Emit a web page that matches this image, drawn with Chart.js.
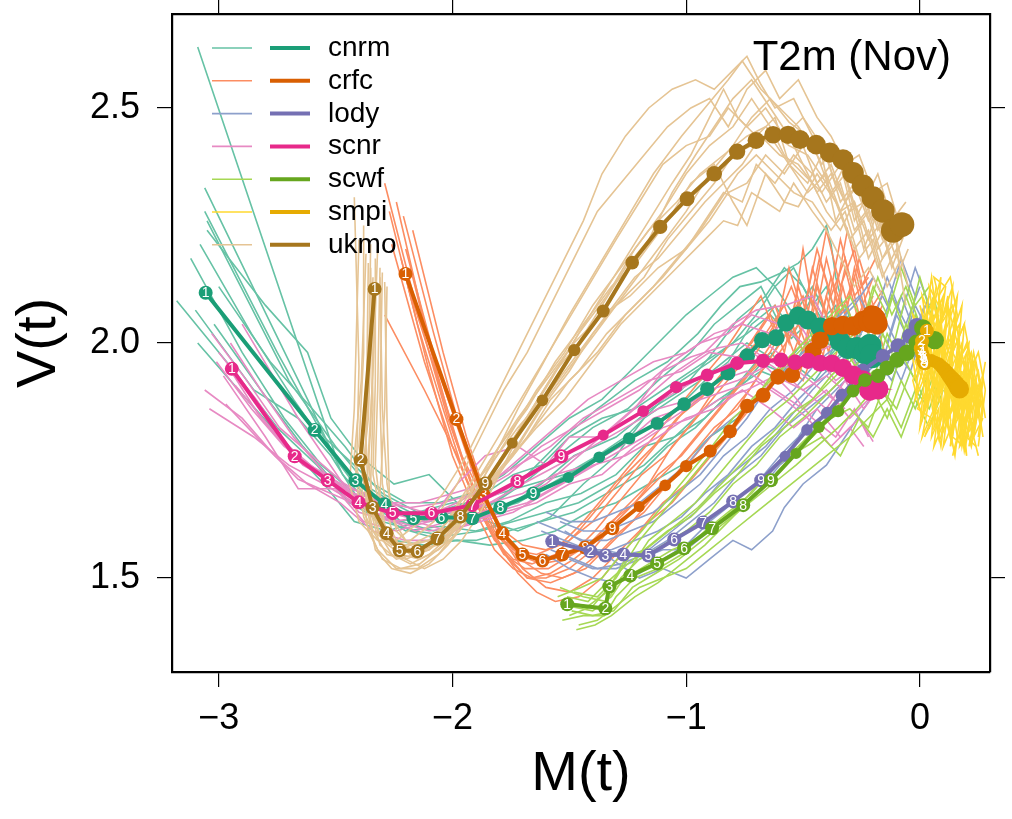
<!DOCTYPE html>
<html>
<head>
<meta charset="utf-8">
<script src="https://cdn.jsdelivr.net/npm/chart.js@4.4.1/dist/chart.umd.min.js"></script>
<style>
  html, body { margin: 0; padding: 0; background: #ffffff; }
  #wrap { width: 1012px; height: 819px; }
</style>
</head>
<body>
<div id="wrap"><canvas id="c" width="1012" height="819"></canvas></div>
<script>
// Model names, colours and axis ticks
const modelNames = ['cnrm', 'crfc', 'lody', 'scnr', 'scwf', 'smpi', 'ukmo'];
const meanColors = ['#1B9E77', '#D95F02', '#7570B3', '#E7298A', '#66A61E', '#E6AB02', '#A6761D'];
const memberColors = ['#66C2A5', '#FC8D62', '#8DA0CB', '#E78AC3', '#A6D854', '#FFD92F', '#E5C494'];
const xTicks = [-3, -2, -1, 0];
const yTicks = [1.5, 2.0, 2.5];
const panelTitle = 'T2m (Nov)';
const xLabel = 'M(t)';
const yLabel = 'V(t)';

// Ensemble-mean trajectories [M(t), V(t)], one point per lead time
const cnrmMean = [[-3.056,2.107],[-2.590,1.815],[-2.415,1.708],[-2.291,1.657],[-2.167,1.627],[-2.047,1.629],[-1.915,1.627],[-1.795,1.650],[-1.654,1.680],[-1.504,1.714],[-1.372,1.757],[-1.244,1.797],[-1.124,1.829],[-1.009,1.870],[-0.910,1.902],[-0.821,1.936],[-0.739,1.972],[-0.675,2.006],[-0.615,2.011],[-0.573,2.043],[-0.521,2.058],[-0.479,2.049],[-0.427,2.034],[-0.385,2.026],[-0.342,2.004],[-0.308,1.989],[-0.269,1.989],[-0.235,1.979],[-0.214,1.994],[-0.205,1.972]];
const crfcMean = [[-2.201,2.147],[-1.983,1.838],[-1.868,1.678],[-1.786,1.595],[-1.701,1.550],[-1.615,1.537],[-1.530,1.550],[-1.432,1.565],[-1.316,1.606],[-1.201,1.652],[-1.090,1.697],[-1.000,1.738],[-0.897,1.770],[-0.812,1.812],[-0.739,1.866],[-0.671,1.889],[-0.607,1.928],[-0.547,1.932],[-0.457,1.983],[-0.427,2.006],[-0.376,2.036],[-0.329,2.038],[-0.286,2.036],[-0.244,2.047],[-0.205,2.058],[-0.184,2.041],[-0.200,2.055],[-0.215,2.046],[-0.195,2.050]];
const lodyMean = [[-1.573,1.578],[-1.410,1.557],[-1.346,1.548],[-1.269,1.550],[-1.162,1.548],[-1.051,1.582],[-0.927,1.618],[-0.799,1.663],[-0.679,1.708],[-0.577,1.759],[-0.483,1.815],[-0.397,1.851],[-0.333,1.889],[-0.244,1.942],[-0.158,1.972],[-0.094,1.994],[-0.043,2.015],[-0.013,2.036]];
const scnrMean = [[-2.944,1.945],[-2.675,1.759],[-2.534,1.708],[-2.402,1.661],[-2.256,1.638],[-2.090,1.638],[-1.915,1.655],[-1.722,1.706],[-1.534,1.759],[-1.355,1.804],[-1.184,1.855],[-1.043,1.906],[-0.910,1.932],[-0.782,1.957],[-0.671,1.962],[-0.594,1.964],[-0.534,1.959],[-0.479,1.962],[-0.427,1.957],[-0.376,1.957],[-0.329,1.947],[-0.286,1.932],[-0.244,1.921],[-0.205,1.904],[-0.179,1.902],[-0.214,1.900]];
const scwfMean = [[-1.509,1.444],[-1.346,1.435],[-1.329,1.482],[-1.239,1.505],[-1.124,1.531],[-1.009,1.563],[-0.889,1.606],[-0.756,1.655],[-0.637,1.708],[-0.530,1.765],[-0.432,1.821],[-0.350,1.855],[-0.286,1.898],[-0.235,1.921],[-0.179,1.930],[-0.141,1.947],[-0.098,1.964],[-0.056,1.979],[-0.013,2.000],[0.013,2.032],[0.064,2.006]];
const smpiMean = [[0.030,2.026],[0.009,2.004],[0.004,1.989],[0.009,1.979],[0.013,1.972],[0.017,1.968],[0.013,1.964],[0.017,1.959],[0.021,1.957],[0.035,1.962],[0.050,1.964],[0.065,1.960],[0.080,1.956],[0.092,1.950],[0.104,1.944],[0.115,1.937],[0.126,1.930],[0.136,1.924],[0.146,1.918],[0.155,1.912],[0.163,1.906],[0.170,1.902]];
const ukmoMean = [[-2.333,2.115],[-2.393,1.751],[-2.342,1.650],[-2.282,1.595],[-2.226,1.559],[-2.150,1.557],[-2.064,1.584],[-1.966,1.631],[-1.859,1.701],[-1.744,1.787],[-1.615,1.878],[-1.479,1.985],[-1.355,2.068],[-1.231,2.171],[-1.111,2.247],[-0.996,2.307],[-0.880,2.360],[-0.782,2.407],[-0.701,2.431],[-0.628,2.443],[-0.564,2.443],[-0.513,2.433],[-0.444,2.422],[-0.385,2.405],[-0.329,2.390],[-0.286,2.362],[-0.244,2.335],[-0.201,2.309],[-0.158,2.281],[-0.115,2.239],[-0.077,2.252]];

// Individual ensemble members [M(t), V(t)]
const cnrmMembers = [
  [[-3.09,2.63],[-2.50,1.76],[-2.36,1.68],[-2.22,1.62],[-2.08,1.60],[-1.95,1.62],[-1.80,1.64],[-1.62,1.70],[-1.48,1.76],[-1.30,1.80],[-1.15,1.86],[-1.02,1.90],[-0.90,1.97],[-0.78,2.05],[-0.66,2.10],[-0.58,2.16],[-0.50,2.12],[-0.42,2.05],[-0.36,2.08],[-0.30,1.98],[-0.25,2.02]],
  [[-3.06,2.33],[-2.62,1.88],[-2.47,1.72],[-2.33,1.64],[-2.20,1.60],[-2.05,1.61],[-1.90,1.60],[-1.76,1.62],[-1.60,1.66],[-1.45,1.68],[-1.30,1.72],[-1.18,1.78],[-1.05,1.80],[-0.92,1.86],[-0.80,1.90],[-0.70,1.96],[-0.60,1.94],[-0.50,2.00],[-0.42,1.95],[-0.34,2.00],[-0.28,1.93]],
  [[-3.06,2.28],[-2.75,1.98],[-2.55,1.80],[-2.42,1.74],[-2.30,1.68],[-2.15,1.64],[-2.00,1.66],[-1.85,1.65],[-1.70,1.70],[-1.55,1.76],[-1.40,1.82],[-1.25,1.86],[-1.12,1.92],[-0.98,1.98],[-0.88,2.04],[-0.78,2.08],[-0.68,2.12],[-0.60,2.04],[-0.52,2.08],[-0.45,2.00],[-0.38,2.03]],
  [[-3.05,2.26],[-2.70,1.92],[-2.50,1.78],[-2.35,1.69],[-2.22,1.65],[-2.10,1.62],[-1.96,1.64],[-1.82,1.66],[-1.68,1.72],[-1.52,1.80],[-1.38,1.86],[-1.22,1.92],[-1.08,1.96],[-0.95,2.02],[-0.85,2.08],[-0.77,2.12],[-0.68,2.13],[-0.59,2.15],[-0.52,2.17],[-0.46,2.20],[-0.40,2.25],[-0.38,2.21],[-0.36,2.14],[-0.33,2.08],[-0.30,2.03]],
  [[-3.18,2.09],[-2.95,1.95],[-2.75,1.82],[-2.58,1.74],[-2.44,1.66],[-2.30,1.62],[-2.16,1.60],[-2.02,1.59],[-1.88,1.60],[-1.74,1.62],[-1.60,1.64],[-1.46,1.66],[-1.32,1.70],[-1.18,1.74],[-1.05,1.80],[-0.92,1.84],[-0.80,1.90],[-0.68,1.94],[-0.58,1.92],[-0.48,1.98],[-0.40,1.94],[-0.32,1.99],[-0.26,1.95]],
  [[-3.10,2.07],[-2.85,1.90],[-2.66,1.84],[-2.52,1.76],[-2.38,1.65],[-2.25,1.58],[-2.12,1.57],[-1.98,1.58],[-1.84,1.57],[-1.70,1.58],[-1.56,1.60],[-1.42,1.64],[-1.30,1.66],[-1.16,1.70],[-1.02,1.74],[-0.90,1.80],[-0.78,1.84],[-0.66,1.90],[-0.55,1.96],[-0.45,1.92],[-0.38,1.97],[-0.30,1.93]],
  [[-3.09,2.00],[-2.88,1.88],[-2.70,1.78],[-2.55,1.70],[-2.42,1.62],[-2.28,1.60],[-2.14,1.62],[-2.00,1.64],[-1.86,1.68],[-1.74,1.72],[-1.62,1.74],[-1.50,1.80],[-1.36,1.84],[-1.22,1.86],[-1.10,1.90],[-0.98,1.94],[-0.86,1.98],[-0.74,2.02],[-0.64,2.06],[-0.55,2.01],[-0.46,2.05],[-0.38,1.99],[-0.30,2.02]],
  [[-3.05,2.24],[-2.80,2.08],[-2.62,1.98],[-2.52,1.84],[-2.40,1.76],[-2.25,1.70],[-2.10,1.72],[-1.98,1.66],[-1.85,1.62],[-1.72,1.60],[-1.58,1.63],[-1.44,1.70],[-1.30,1.76],[-1.18,1.84],[-1.06,1.88],[-0.94,1.92],[-0.84,1.96],[-0.74,2.00],[-0.64,1.97],[-0.56,2.03],[-0.48,1.97],[-0.40,2.01]],
  [[-3.12,2.18],[-2.90,1.98],[-2.72,1.84],[-2.56,1.74],[-2.42,1.68],[-2.28,1.64],[-2.14,1.63],[-2.00,1.62],[-1.86,1.64],[-1.72,1.66],[-1.58,1.70],[-1.44,1.74],[-1.30,1.78],[-1.16,1.82],[-1.04,1.86],[-0.92,1.92],[-0.82,1.96],[-0.72,2.04],[-0.62,2.08],[-0.54,2.02],[-0.46,2.10],[-0.38,2.02],[-0.30,2.06],[-0.24,1.98]],
  [[-3.02,2.04],[-2.82,1.90],[-2.64,1.78],[-2.50,1.70],[-2.36,1.64],[-2.22,1.62],[-2.08,1.64],[-1.94,1.66],[-1.80,1.68],[-1.66,1.70],[-1.52,1.72],[-1.38,1.76],[-1.26,1.80],[-1.14,1.86],[-1.02,1.92],[-0.90,1.96],[-0.80,2.00],[-0.70,2.06],[-0.62,2.12],[-0.54,2.06],[-0.46,2.12],[-0.38,2.04],[-0.32,2.08],[-0.26,2.00]],
  [[-3.08,2.21],[-2.86,2.02],[-2.68,1.88],[-2.54,1.78],[-2.42,1.70],[-2.30,1.64],[-2.18,1.60],[-2.04,1.58],[-1.90,1.58],[-1.76,1.60],[-1.62,1.62],[-1.48,1.64],[-1.34,1.68],[-1.20,1.72],[-1.08,1.78],[-0.96,1.82],[-0.84,1.88],[-0.74,1.92],[-0.64,1.98],[-0.56,1.94],[-0.48,2.00],[-0.40,1.96],[-0.34,2.02],[-0.28,1.97]],
  [[-3.00,2.12],[-2.78,1.96],[-2.60,1.86],[-2.46,1.78],[-2.34,1.70],[-2.20,1.66],[-2.06,1.66],[-1.92,1.68],[-1.78,1.72],[-1.64,1.78],[-1.50,1.84],[-1.36,1.88],[-1.24,1.94],[-1.12,2.00],[-1.00,2.06],[-0.90,2.10],[-0.80,2.14],[-0.70,2.16],[-0.62,2.12],[-0.54,2.16],[-0.46,2.08],[-0.40,2.12],[-0.34,2.04]]
];
const crfcMembers = [
  [[-2.29,2.34],[-2.14,2.05],[-2.02,1.84],[-1.92,1.70],[-1.84,1.60],[-1.76,1.54],[-1.68,1.50],[-1.60,1.50],[-1.50,1.52],[-1.40,1.56],[-1.30,1.62],[-1.18,1.68],[-1.06,1.74],[-0.96,1.80],[-0.86,1.86],[-0.76,1.92],[-0.66,1.98],[-0.58,2.04],[-0.50,2.10],[-0.44,2.02],[-0.38,2.14],[-0.32,2.06],[-0.26,2.18],[-0.20,2.08],[-0.15,2.12]],
  [[-2.21,2.27],[-2.08,2.02],[-1.98,1.84],[-1.88,1.70],[-1.80,1.60],[-1.72,1.55],[-1.62,1.53],[-1.52,1.54],[-1.42,1.57],[-1.32,1.62],[-1.22,1.66],[-1.12,1.72],[-1.02,1.76],[-0.92,1.82],[-0.82,1.88],[-0.72,1.94],[-0.64,1.98],[-0.56,2.06],[-0.50,1.98],[-0.44,2.12],[-0.38,2.02],[-0.32,2.16],[-0.26,2.04],[-0.20,2.10]],
  [[-2.17,2.24],[-2.04,1.98],[-1.94,1.80],[-1.86,1.68],[-1.78,1.58],[-1.70,1.52],[-1.60,1.48],[-1.50,1.47],[-1.40,1.50],[-1.30,1.55],[-1.20,1.60],[-1.10,1.66],[-1.00,1.70],[-0.90,1.76],[-0.80,1.82],[-0.70,1.88],[-0.62,1.92],[-0.54,1.98],[-0.48,2.06],[-0.42,1.96],[-0.36,2.10],[-0.30,1.98],[-0.24,2.08],[-0.18,2.00]],
  [[-2.26,2.21],[-2.12,1.96],[-2.00,1.78],[-1.90,1.66],[-1.82,1.58],[-1.74,1.54],[-1.66,1.53],[-1.56,1.55],[-1.46,1.60],[-1.36,1.66],[-1.26,1.72],[-1.14,1.78],[-1.04,1.84],[-0.94,1.88],[-0.84,1.94],[-0.74,1.98],[-0.66,2.02],[-0.58,2.08],[-0.52,2.00],[-0.46,2.16],[-0.40,2.06],[-0.34,2.22],[-0.28,2.10],[-0.22,2.14]],
  [[-2.29,2.06],[-2.12,1.90],[-1.98,1.76],[-1.88,1.64],[-1.80,1.57],[-1.72,1.51],[-1.64,1.47],[-1.56,1.45],[-1.46,1.46],[-1.36,1.50],[-1.26,1.56],[-1.16,1.62],[-1.06,1.66],[-0.96,1.72],[-0.86,1.78],[-0.76,1.84],[-0.66,1.90],[-0.58,1.96],[-0.50,1.92],[-0.44,2.00],[-0.38,1.94],[-0.32,2.04],[-0.26,1.96],[-0.20,2.02]],
  [[-2.22,2.18],[-2.10,1.94],[-2.00,1.76],[-1.90,1.64],[-1.82,1.56],[-1.74,1.52],[-1.66,1.50],[-1.58,1.51],[-1.48,1.54],[-1.38,1.58],[-1.28,1.64],[-1.16,1.70],[-1.06,1.78],[-0.96,1.84],[-0.88,1.90],[-0.78,1.96],[-0.70,2.02],[-0.62,2.08],[-0.56,2.00],[-0.50,2.20],[-0.46,2.08],[-0.40,2.24],[-0.34,2.12],[-0.28,2.20],[-0.22,2.06]],
  [[-2.19,2.12],[-2.06,1.92],[-1.96,1.76],[-1.86,1.66],[-1.78,1.60],[-1.70,1.57],[-1.60,1.56],[-1.50,1.58],[-1.40,1.62],[-1.30,1.68],[-1.20,1.74],[-1.10,1.80],[-1.00,1.86],[-0.90,1.90],[-0.80,1.96],[-0.72,2.00],[-0.64,2.06],[-0.58,1.98],[-0.52,2.12],[-0.46,2.02],[-0.40,2.18],[-0.34,2.06],[-0.28,2.14],[-0.22,2.02],[-0.16,2.08]],
  [[-2.24,2.30],[-2.10,2.00],[-1.99,1.80],[-1.90,1.68],[-1.82,1.60],[-1.74,1.56],[-1.64,1.55],[-1.54,1.57],[-1.44,1.62],[-1.34,1.68],[-1.24,1.74],[-1.14,1.80],[-1.04,1.86],[-0.94,1.92],[-0.84,1.98],[-0.76,2.04],[-0.68,2.10],[-0.62,2.02],[-0.56,2.16],[-0.50,2.06],[-0.44,2.20],[-0.38,2.10],[-0.32,2.18],[-0.26,2.06],[-0.20,2.14]],
  [[-2.20,2.20],[-2.06,1.94],[-1.95,1.78],[-1.87,1.66],[-1.79,1.58],[-1.71,1.54],[-1.62,1.51],[-1.53,1.50],[-1.43,1.52],[-1.33,1.57],[-1.23,1.62],[-1.13,1.68],[-1.03,1.72],[-0.93,1.78],[-0.83,1.84],[-0.73,1.90],[-0.65,1.96],[-0.57,2.02],[-0.51,1.94],[-0.45,2.08],[-0.39,1.98],[-0.33,2.12],[-0.27,2.00],[-0.21,2.08],[-0.15,1.98]],
  [[-2.27,2.28],[-2.15,2.04],[-2.04,1.86],[-1.95,1.72],[-1.86,1.62],[-1.78,1.55],[-1.69,1.52],[-1.59,1.52],[-1.49,1.55],[-1.39,1.60],[-1.29,1.66],[-1.19,1.72],[-1.09,1.76],[-0.99,1.82],[-0.89,1.88],[-0.79,1.94],[-0.70,1.98],[-0.62,2.04],[-0.55,2.12],[-0.49,2.04],[-0.43,2.18],[-0.37,2.08],[-0.31,2.24],[-0.25,2.12],[-0.19,2.18]],
  [[-2.18,2.16],[-2.05,1.90],[-1.95,1.74],[-1.85,1.62],[-1.77,1.55],[-1.68,1.50],[-1.58,1.49],[-1.48,1.51],[-1.38,1.55],[-1.28,1.60],[-1.18,1.64],[-1.08,1.70],[-0.98,1.76],[-0.88,1.82],[-0.78,1.86],[-0.68,1.94],[-0.60,1.98],[-0.52,2.04],[-0.46,1.96],[-0.40,2.10],[-0.34,2.00],[-0.28,2.16],[-0.22,2.04],[-0.16,2.10]]
];
const lodyMembers = [
  [[-1.64,1.62],[-1.54,1.60],[-1.44,1.58],[-1.34,1.58],[-1.24,1.60],[-1.14,1.62],[-1.04,1.66],[-0.94,1.70],[-0.84,1.76],[-0.74,1.80],[-0.64,1.86],[-0.54,1.90],[-0.44,1.96],[-0.34,2.00],[-0.26,2.06],[-0.18,2.02],[-0.12,2.10],[-0.06,2.04],[0.00,2.12]],
  [[-1.58,1.56],[-1.48,1.54],[-1.38,1.52],[-1.28,1.53],[-1.18,1.55],[-1.08,1.58],[-0.98,1.62],[-0.88,1.66],[-0.78,1.72],[-0.68,1.76],[-0.58,1.82],[-0.48,1.86],[-0.38,1.90],[-0.30,1.94],[-0.22,1.98],[-0.14,2.04],[-0.08,1.98],[-0.02,2.08],[0.04,2.02]],
  [[-1.52,1.60],[-1.42,1.57],[-1.32,1.54],[-1.20,1.50],[-1.10,1.52],[-1.00,1.50],[-0.90,1.54],[-0.80,1.58],[-0.72,1.56],[-0.63,1.60],[-0.58,1.65],[-0.50,1.70],[-0.40,1.74],[-0.32,1.80],[-0.24,1.86],[-0.16,1.92],[-0.10,1.98],[-0.04,1.94],[0.02,2.04]],
  [[-1.60,1.64],[-1.50,1.62],[-1.40,1.62],[-1.30,1.64],[-1.20,1.66],[-1.10,1.70],[-1.00,1.74],[-0.90,1.80],[-0.80,1.84],[-0.70,1.88],[-0.62,1.92],[-0.52,1.96],[-0.44,2.00],[-0.36,2.04],[-0.28,2.08],[-0.20,2.14],[-0.14,2.08],[-0.08,2.18],[-0.02,2.10]],
  [[-1.56,1.58],[-1.46,1.56],[-1.36,1.56],[-1.26,1.55],[-1.16,1.56],[-1.06,1.60],[-0.96,1.64],[-0.86,1.70],[-0.76,1.74],[-0.66,1.78],[-0.56,1.84],[-0.46,1.90],[-0.38,1.94],[-0.30,1.98],[-0.22,2.02],[-0.16,1.96],[-0.10,2.06],[-0.04,2.00],[0.02,2.08]],
  [[-1.50,1.54],[-1.40,1.52],[-1.30,1.52],[-1.20,1.54],[-1.10,1.56],[-1.00,1.56],[-0.90,1.60],[-0.80,1.64],[-0.70,1.68],[-0.60,1.74],[-0.50,1.78],[-0.42,1.84],[-0.34,1.88],[-0.26,1.92],[-0.18,1.96],[-0.12,1.92],[-0.06,2.00],[0.00,1.96],[0.04,2.02]],
  [[-1.62,1.60],[-1.52,1.58],[-1.42,1.56],[-1.32,1.56],[-1.22,1.58],[-1.12,1.60],[-1.02,1.63],[-0.92,1.68],[-0.82,1.72],[-0.72,1.78],[-0.62,1.82],[-0.52,1.88],[-0.44,1.92],[-0.36,1.96],[-0.28,2.00],[-0.20,2.06],[-0.14,2.00],[-0.08,2.10],[-0.02,2.02],[0.04,2.10]],
  [[-1.54,1.62],[-1.44,1.60],[-1.34,1.60],[-1.24,1.62],[-1.14,1.64],[-1.04,1.68],[-0.94,1.72],[-0.84,1.78],[-0.74,1.84],[-0.66,1.90],[-0.58,1.94],[-0.50,1.98],[-0.42,2.02],[-0.34,2.06],[-0.26,2.10],[-0.20,2.04],[-0.14,2.14],[-0.08,2.06],[-0.02,2.16],[0.04,2.08]],
  [[-1.60,1.55],[-1.50,1.52],[-1.40,1.50],[-1.30,1.49],[-1.20,1.51],[-1.10,1.54],[-1.00,1.57],[-0.90,1.62],[-0.80,1.66],[-0.70,1.70],[-0.60,1.76],[-0.52,1.80],[-0.44,1.86],[-0.36,1.90],[-0.28,1.94],[-0.20,1.90],[-0.14,1.98],[-0.08,1.92],[-0.02,2.00],[0.04,1.94]]
];
const scnrMembers = [
  [[-3.04,1.86],[-2.85,1.80],[-2.70,1.74],[-2.55,1.70],[-2.42,1.66],[-2.28,1.64],[-2.12,1.62],[-1.98,1.63],[-1.84,1.66],[-1.70,1.70],[-1.55,1.74],[-1.40,1.78],[-1.26,1.82],[-1.12,1.86],[-0.98,1.88],[-0.86,1.92],[-0.74,1.94],[-0.62,1.90],[-0.50,1.86],[-0.40,1.90],[-0.30,1.84],[-0.22,1.88]],
  [[-2.97,1.87],[-2.80,1.78],[-2.66,1.71],[-2.52,1.68],[-2.38,1.65],[-2.24,1.62],[-2.10,1.60],[-1.96,1.61],[-1.82,1.64],[-1.68,1.66],[-1.54,1.70],[-1.40,1.74],[-1.26,1.76],[-1.12,1.80],[-1.00,1.84],[-0.88,1.86],[-0.76,1.90],[-0.64,1.86],[-0.54,1.82],[-0.44,1.86],[-0.34,1.80],[-0.26,1.84],[-0.20,1.79]],
  [[-3.03,2.02],[-2.88,1.92],[-2.74,1.82],[-2.60,1.76],[-2.46,1.70],[-2.32,1.66],[-2.18,1.65],[-2.04,1.66],[-1.90,1.68],[-1.76,1.72],[-1.62,1.78],[-1.48,1.82],[-1.34,1.86],[-1.20,1.90],[-1.06,1.96],[-0.94,2.00],[-0.82,2.02],[-0.72,2.06],[-0.60,2.04],[-0.50,2.00],[-0.40,1.96],[-0.30,1.93]],
  [[-2.90,2.04],[-2.78,1.94],[-2.66,1.84],[-2.55,1.76],[-2.44,1.68],[-2.30,1.63],[-2.16,1.60],[-2.02,1.62],[-1.88,1.64],[-1.74,1.66],[-1.60,1.70],[-1.46,1.76],[-1.32,1.82],[-1.18,1.88],[-1.04,1.94],[-0.92,1.98],[-0.80,2.04],[-0.70,2.07],[-0.58,2.08],[-0.46,2.10],[-0.38,2.02],[-0.30,1.98],[-0.24,1.92]],
  [[-2.98,1.93],[-2.80,1.80],[-2.66,1.69],[-2.50,1.69],[-2.38,1.62],[-2.24,1.60],[-2.10,1.62],[-1.98,1.70],[-1.86,1.76],[-1.72,1.78],[-1.60,1.74],[-1.50,1.80],[-1.36,1.80],[-1.22,1.86],[-1.10,1.94],[-0.98,1.97],[-0.86,1.99],[-0.76,2.00],[-0.64,1.96],[-0.52,1.94],[-0.42,1.90],[-0.32,1.86]],
  [[-2.96,1.95],[-2.82,1.84],[-2.68,1.76],[-2.54,1.72],[-2.40,1.67],[-2.26,1.66],[-2.12,1.64],[-1.98,1.64],[-1.84,1.66],[-1.70,1.68],[-1.56,1.72],[-1.42,1.74],[-1.28,1.78],[-1.14,1.84],[-1.02,1.86],[-0.90,1.90],[-0.78,1.92],[-0.66,1.95],[-0.56,1.90],[-0.46,1.84],[-0.36,1.80],[-0.28,1.86],[-0.22,1.80]],
  [[-3.06,1.90],[-2.90,1.84],[-2.76,1.76],[-2.62,1.70],[-2.48,1.66],[-2.34,1.60],[-2.20,1.58],[-2.06,1.58],[-1.92,1.62],[-1.78,1.64],[-1.64,1.66],[-1.50,1.70],[-1.36,1.72],[-1.22,1.78],[-1.10,1.82],[-0.98,1.84],[-0.86,1.88],[-0.74,1.90],[-0.62,1.93],[-0.50,1.90],[-0.40,1.93],[-0.30,1.89],[-0.24,1.94]],
  [[-3.00,1.98],[-2.84,1.88],[-2.70,1.78],[-2.56,1.72],[-2.42,1.68],[-2.28,1.66],[-2.14,1.66],[-2.00,1.68],[-1.86,1.70],[-1.72,1.74],[-1.58,1.78],[-1.44,1.84],[-1.30,1.88],[-1.16,1.92],[-1.02,1.94],[-0.90,1.98],[-0.78,1.97],[-0.66,2.00],[-0.56,1.96],[-0.46,1.98],[-0.36,1.92],[-0.28,1.95],[-0.22,1.88]],
  [[-2.93,1.91],[-2.78,1.82],[-2.64,1.74],[-2.50,1.70],[-2.36,1.66],[-2.22,1.64],[-2.08,1.63],[-1.94,1.65],[-1.80,1.68],[-1.66,1.72],[-1.52,1.76],[-1.38,1.80],[-1.24,1.84],[-1.10,1.88],[-0.96,1.92],[-0.84,1.95],[-0.72,1.98],[-0.60,1.94],[-0.50,1.90],[-0.40,1.86],[-0.32,1.92],[-0.24,1.86],[-0.18,1.90]],
  [[-3.01,1.96],[-2.86,1.86],[-2.72,1.78],[-2.58,1.73],[-2.44,1.69],[-2.30,1.67],[-2.16,1.62],[-2.02,1.60],[-1.88,1.62],[-1.74,1.64],[-1.60,1.68],[-1.46,1.72],[-1.32,1.76],[-1.18,1.80],[-1.06,1.84],[-0.94,1.88],[-0.82,1.90],[-0.70,1.92],[-0.58,1.88],[-0.48,1.84],[-0.38,1.78],[-0.30,1.82],[-0.24,1.78]],
  [[-2.95,2.00],[-2.82,1.90],[-2.68,1.80],[-2.54,1.72],[-2.40,1.64],[-2.26,1.62],[-2.12,1.63],[-1.98,1.66],[-1.84,1.70],[-1.70,1.76],[-1.56,1.82],[-1.42,1.88],[-1.28,1.92],[-1.14,1.96],[-1.00,1.98],[-0.88,2.02],[-0.76,2.04],[-0.64,2.02],[-0.54,2.06],[-0.44,1.98],[-0.36,2.00],[-0.28,1.94]]
];
const scwfMembers = [
  [[-1.54,1.48],[-1.44,1.46],[-1.34,1.45],[-1.28,1.50],[-1.20,1.54],[-1.10,1.57],[-1.00,1.60],[-0.90,1.64],[-0.80,1.70],[-0.70,1.74],[-0.60,1.80],[-0.50,1.84],[-0.42,1.88],[-0.34,1.92],[-0.26,1.96],[-0.18,2.00],[-0.12,1.94],[-0.06,2.04],[0.00,1.98],[0.06,2.06]],
  [[-1.53,1.41],[-1.44,1.42],[-1.35,1.42],[-1.30,1.46],[-1.22,1.50],[-1.12,1.52],[-1.02,1.55],[-0.92,1.60],[-0.82,1.64],[-0.72,1.68],[-0.62,1.74],[-0.52,1.78],[-0.44,1.82],[-0.36,1.86],[-0.28,1.90],[-0.20,1.94],[-0.14,1.88],[-0.08,1.98],[-0.02,1.92],[0.04,2.00]],
  [[-1.50,1.44],[-1.40,1.43],[-1.32,1.46],[-1.24,1.52],[-1.16,1.58],[-1.06,1.62],[-0.96,1.66],[-0.86,1.72],[-0.76,1.78],[-0.66,1.84],[-0.56,1.88],[-0.48,1.92],[-0.40,1.96],[-0.32,2.00],[-0.24,2.04],[-0.18,1.98],[-0.12,2.10],[-0.06,2.02],[0.00,2.14],[0.06,2.04]],
  [[-1.46,1.40],[-1.38,1.41],[-1.30,1.44],[-1.20,1.48],[-1.10,1.50],[-1.00,1.52],[-0.90,1.56],[-0.80,1.60],[-0.70,1.64],[-0.60,1.68],[-0.50,1.72],[-0.40,1.76],[-0.30,1.80],[-0.22,1.84],[-0.14,1.88],[-0.08,1.82],[-0.02,1.90],[0.04,1.86],[0.10,1.94]],
  [[-1.52,1.45],[-1.42,1.44],[-1.34,1.47],[-1.26,1.54],[-1.18,1.56],[-1.08,1.60],[-0.98,1.63],[-0.88,1.68],[-0.78,1.72],[-0.68,1.78],[-0.58,1.82],[-0.50,1.86],[-0.42,1.90],[-0.34,1.94],[-0.26,1.98],[-0.20,1.92],[-0.14,2.02],[-0.08,1.96],[-0.02,2.06],[0.04,1.98]],
  [[-1.48,1.47],[-1.38,1.46],[-1.30,1.50],[-1.20,1.58],[-1.10,1.64],[-1.00,1.70],[-0.90,1.76],[-0.80,1.82],[-0.72,1.88],[-0.64,1.92],[-0.56,1.96],[-0.48,2.00],[-0.40,2.04],[-0.32,2.08],[-0.26,2.02],[-0.20,2.12],[-0.14,2.06],[-0.08,2.16],[-0.02,2.08],[0.04,2.12]],
  [[-1.50,1.42],[-1.40,1.44],[-1.33,1.48],[-1.26,1.50],[-1.16,1.53],[-1.06,1.56],[-0.96,1.58],[-0.86,1.62],[-0.76,1.66],[-0.66,1.72],[-0.56,1.76],[-0.46,1.80],[-0.38,1.84],[-0.30,1.86],[-0.22,1.82],[-0.16,1.90],[-0.10,1.86],[-0.04,1.94],[0.02,1.88],[0.08,1.96]],
  [[-1.51,1.46],[-1.42,1.45],[-1.34,1.49],[-1.25,1.53],[-1.15,1.57],[-1.05,1.61],[-0.95,1.65],[-0.85,1.70],[-0.75,1.75],[-0.65,1.80],[-0.55,1.85],[-0.46,1.88],[-0.38,1.93],[-0.30,1.97],[-0.24,1.92],[-0.18,2.04],[-0.12,1.98],[-0.06,2.10],[0.00,2.02],[0.06,2.10],[0.10,2.00]],
  [[-1.49,1.43],[-1.40,1.42],[-1.31,1.43],[-1.23,1.48],[-1.13,1.51],[-1.03,1.54],[-0.93,1.58],[-0.83,1.62],[-0.73,1.66],[-0.63,1.70],[-0.53,1.74],[-0.44,1.78],[-0.35,1.82],[-0.27,1.86],[-0.20,1.90],[-0.14,1.84],[-0.08,1.92],[-0.02,1.86],[0.04,1.94],[0.08,1.88]],
  [[-1.55,1.46],[-1.45,1.48],[-1.36,1.50],[-1.28,1.55],[-1.19,1.60],[-1.09,1.66],[-0.99,1.72],[-0.89,1.78],[-0.80,1.84],[-0.71,1.88],[-0.62,1.94],[-0.54,1.98],[-0.46,2.02],[-0.38,2.06],[-0.30,2.10],[-0.24,2.04],[-0.18,2.14],[-0.12,2.06],[-0.06,2.12],[0.00,2.04],[0.05,2.08]],
  [[-1.47,1.39],[-1.39,1.40],[-1.32,1.42],[-1.22,1.46],[-1.12,1.49],[-1.02,1.53],[-0.92,1.57],[-0.82,1.62],[-0.72,1.67],[-0.62,1.72],[-0.52,1.77],[-0.42,1.80],[-0.34,1.76],[-0.26,1.84],[-0.20,1.80],[-0.14,1.86],[-0.08,1.80],[-0.02,1.88],[0.04,1.82],[0.10,1.90]]
];
const smpiMembers = [
  [[0.02,2.04],[0.06,2.10],[0.03,1.98],[0.08,2.06],[0.05,1.94],[0.10,2.02],[0.08,1.90],[0.13,1.98],[0.11,1.86],[0.16,1.94],[0.14,1.82],[0.19,1.90],[0.17,1.80],[0.22,1.88]],
  [[0.04,2.02],[0.00,2.08],[0.06,1.96],[0.02,1.92],[0.09,2.00],[0.06,1.88],[0.12,1.96],[0.10,1.84],[0.15,1.92],[0.18,1.82],[0.20,1.92],[0.24,1.86],[0.21,1.78],[0.26,1.88]],
  [[0.01,2.00],[0.05,2.14],[0.08,2.02],[0.12,2.10],[0.10,1.98],[0.15,2.06],[0.13,1.94],[0.18,2.00],[0.16,1.90],[0.21,1.96],[0.19,1.86],[0.24,1.92],[0.22,1.82],[0.27,1.88]],
  [[0.03,2.03],[-0.02,1.96],[0.03,1.90],[-0.01,1.86],[0.05,1.84],[0.02,1.80],[0.08,1.86],[0.06,1.78],[0.11,1.84],[0.14,1.78],[0.12,1.90],[0.17,1.84],[0.19,1.77],[0.22,1.84]],
  [[0.02,2.01],[0.07,2.00],[0.04,2.12],[0.10,2.06],[0.14,2.12],[0.12,2.00],[0.17,2.04],[0.15,1.94],[0.20,2.00],[0.23,1.92],[0.21,1.84],[0.25,1.90],[0.23,1.80],[0.27,1.84]],
  [[0.03,2.02],[0.00,1.94],[0.05,2.00],[0.03,1.88],[0.08,1.94],[0.06,1.82],[0.12,1.88],[0.09,1.80],[0.14,1.86],[0.18,1.94],[0.16,1.84],[0.21,1.92],[0.19,1.80],[0.24,1.96]],
  [[0.03,2.03],[0.08,1.96],[0.05,2.06],[0.11,1.94],[0.08,2.04],[0.14,1.96],[0.12,2.08],[0.17,1.98],[0.15,1.88],[0.20,1.94],[0.18,1.84],[0.23,1.98],[0.26,1.90],[0.28,1.96]],
  [[0.02,2.00],[-0.03,1.92],[0.01,1.84],[0.04,1.96],[0.07,1.86],[0.10,1.92],[0.08,1.82],[0.13,1.90],[0.16,1.80],[0.14,1.76],[0.19,1.84],[0.22,1.78],[0.25,1.86],[0.22,1.94]],
  [[0.03,2.02],[0.07,2.12],[0.04,2.04],[0.09,2.14],[0.07,2.02],[0.12,2.08],[0.10,1.96],[0.15,2.02],[0.13,1.92],[0.18,1.98],[0.21,1.88],[0.19,1.82],[0.24,1.88],[0.22,1.78]],
  [[0.02,2.02],[-0.02,2.04],[0.01,1.94],[0.05,2.02],[0.02,1.86],[0.07,1.92],[0.10,1.84],[0.12,1.94],[0.15,1.86],[0.13,1.78],[0.17,1.88],[0.20,1.80],[0.23,1.90],[0.26,1.82]],
  [[0.03,2.01],[0.06,1.92],[0.09,2.02],[0.11,1.90],[0.14,2.00],[0.12,1.88],[0.17,1.96],[0.19,1.86],[0.22,1.96],[0.20,1.84],[0.24,1.92],[0.27,1.86],[0.25,1.78],[0.28,1.90]],
  [[0.02,2.03],[-0.04,2.00],[-0.01,1.90],[0.03,1.98],[0.00,1.82],[0.05,1.90],[0.08,1.80],[0.10,1.88],[0.13,1.80],[0.16,1.88],[0.18,1.78],[0.21,1.86],[0.19,1.94],[0.23,1.88]],
  [[0.03,2.02],[0.09,2.08],[0.06,2.14],[0.11,2.12],[0.09,2.04],[0.14,2.08],[0.17,2.00],[0.15,1.92],[0.20,1.98],[0.18,1.90],[0.23,1.96],[0.21,1.86],[0.26,1.92],[0.24,1.84]],
  [[0.02,2.01],[0.05,1.94],[0.02,1.86],[0.07,1.92],[0.05,1.80],[0.10,1.86],[0.13,1.94],[0.11,1.82],[0.16,1.90],[0.14,1.82],[0.19,1.86],[0.17,1.78],[0.22,1.82],[0.25,1.76]],
  [[0.03,2.03],[0.01,2.10],[0.06,2.04],[0.04,1.96],[0.09,2.00],[0.07,1.92],[0.12,2.00],[0.16,1.96],[0.14,1.86],[0.19,1.92],[0.22,1.82],[0.20,1.92],[0.25,1.98],[0.28,1.90]],
  [[0.02,2.02],[0.08,2.02],[0.05,1.90],[0.10,1.96],[0.08,1.88],[0.13,1.84],[0.11,1.94],[0.16,1.90],[0.14,1.80],[0.19,1.78],[0.17,1.92],[0.22,1.86],[0.20,1.80],[0.24,1.78]],
  [[0.03,2.02],[0.10,2.10],[0.07,1.98],[0.12,2.04],[0.16,2.10],[0.14,1.98],[0.19,2.04],[0.17,1.92],[0.22,1.98],[0.25,1.88],[0.23,1.80],[0.27,1.92],[0.25,1.84]],
  [[0.02,2.01],[-0.01,1.98],[0.04,1.88],[0.01,1.80],[0.06,1.86],[0.09,1.78],[0.11,1.86],[0.15,1.76],[0.17,1.84],[0.20,1.76],[0.18,1.88],[0.23,1.82]],
  [[0.03,2.03],[0.06,2.08],[0.10,2.00],[0.08,2.10],[0.13,2.14],[0.16,2.06],[0.14,1.98],[0.19,2.04],[0.22,1.96],[0.20,1.88],[0.25,1.94],[0.28,1.84]],
  [[0.02,2.02],[0.05,1.98],[0.03,2.06],[0.07,1.96],[0.11,2.04],[0.09,1.90],[0.14,1.94],[0.12,1.84],[0.17,1.92],[0.21,1.84],[0.19,1.96],[0.24,1.90],[0.27,1.80]],
  [[0.03,2.01],[-0.03,2.06],[0.00,1.98],[-0.02,1.88],[0.03,1.94],[0.06,1.84],[0.09,1.94],[0.12,1.86],[0.10,1.78],[0.15,1.84],[0.18,1.92],[0.21,1.84]],
  [[0.02,2.02],[0.07,2.06],[0.11,1.98],[0.09,1.92],[0.14,2.02],[0.18,2.08],[0.16,1.96],[0.21,2.00],[0.19,1.90],[0.24,1.96],[0.27,1.88],[0.25,1.80]]
];
const ukmoMembers = [
  [[-2.42,2.31],[-2.40,1.95],[-2.41,1.74],[-2.38,1.63],[-2.32,1.56],[-2.24,1.52],[-2.15,1.52],[-2.06,1.55],[-1.98,1.60],[-1.90,1.68],[-1.82,1.76],[-1.72,1.86],[-1.62,1.95],[-1.50,2.06],[-1.38,2.16],[-1.26,2.26],[-1.14,2.36],[-1.02,2.44],[-0.92,2.50],[-0.82,2.56],[-0.76,2.60],[-0.68,2.54],[-0.60,2.50],[-0.52,2.46],[-0.44,2.40],[-0.38,2.32],[-0.32,2.36],[-0.26,2.26],[-0.20,2.30],[-0.14,2.20]],
  [[-2.35,2.21],[-2.36,1.90],[-2.38,1.70],[-2.34,1.60],[-2.28,1.55],[-2.20,1.54],[-2.10,1.56],[-2.02,1.60],[-1.95,1.65],[-1.86,1.72],[-1.76,1.80],[-1.64,1.90],[-1.52,1.98],[-1.40,2.08],[-1.28,2.16],[-1.16,2.24],[-1.04,2.30],[-0.94,2.36],[-0.84,2.40],[-0.74,2.44],[-0.66,2.46],[-0.56,2.42],[-0.48,2.40],[-0.40,2.34],[-0.34,2.28],[-0.28,2.30],[-0.22,2.22],[-0.16,2.26],[-0.10,2.18]],
  [[-2.33,2.18],[-2.33,1.92],[-2.34,1.72],[-2.30,1.62],[-2.24,1.57],[-2.16,1.56],[-2.06,1.57],[-1.98,1.62],[-1.90,1.70],[-1.80,1.78],[-1.68,1.86],[-1.56,1.96],[-1.44,2.04],[-1.32,2.12],[-1.20,2.18],[-1.08,2.26],[-0.98,2.34],[-0.88,2.38],[-0.80,2.30],[-0.74,2.25],[-0.66,2.36],[-0.58,2.30],[-0.52,2.29],[-0.44,2.36],[-0.36,2.30],[-0.30,2.22],[-0.24,2.26],[-0.18,2.16],[-0.12,2.22]],
  [[-2.30,2.15],[-2.31,1.88],[-2.30,1.70],[-2.26,1.60],[-2.20,1.54],[-2.12,1.52],[-2.04,1.54],[-1.96,1.58],[-1.88,1.64],[-1.80,1.72],[-1.70,1.80],[-1.60,1.88],[-1.48,1.96],[-1.36,2.04],[-1.24,2.12],[-1.12,2.20],[-1.00,2.28],[-0.90,2.36],[-0.80,2.42],[-0.72,2.48],[-0.64,2.52],[-0.56,2.47],[-0.48,2.44],[-0.42,2.38],[-0.36,2.42],[-0.30,2.32],[-0.24,2.34],[-0.18,2.24],[-0.12,2.28],[-0.08,2.14]],
  [[-2.28,2.12],[-2.29,1.86],[-2.31,1.68],[-2.28,1.58],[-2.22,1.56],[-2.14,1.58],[-2.06,1.60],[-2.00,1.63],[-1.92,1.66],[-1.84,1.70],[-1.74,1.76],[-1.62,1.84],[-1.50,1.92],[-1.38,1.98],[-1.26,2.06],[-1.14,2.12],[-1.04,2.18],[-0.94,2.24],[-0.86,2.30],[-0.78,2.36],[-0.70,2.40],[-0.62,2.36],[-0.54,2.32],[-0.46,2.30],[-0.38,2.24],[-0.32,2.28],[-0.26,2.18],[-0.20,2.22],[-0.14,2.12],[-0.08,2.18]],
  [[-2.38,2.25],[-2.38,1.98],[-2.40,1.78],[-2.36,1.66],[-2.30,1.58],[-2.22,1.55],[-2.14,1.54],[-2.06,1.56],[-1.97,1.60],[-1.88,1.66],[-1.78,1.74],[-1.68,1.84],[-1.58,1.92],[-1.46,2.02],[-1.34,2.10],[-1.22,2.20],[-1.10,2.28],[-1.00,2.36],[-0.90,2.42],[-0.80,2.46],[-0.72,2.52],[-0.64,2.46],[-0.58,2.40],[-0.50,2.36],[-0.42,2.32],[-0.34,2.38],[-0.28,2.26],[-0.22,2.32],[-0.16,2.22],[-0.10,2.26]],
  [[-2.32,2.20],[-2.34,1.94],[-2.36,1.76],[-2.34,1.64],[-2.28,1.58],[-2.20,1.57],[-2.10,1.58],[-2.02,1.62],[-1.94,1.68],[-1.84,1.74],[-1.72,1.82],[-1.58,1.90],[-1.46,1.98],[-1.34,2.06],[-1.22,2.14],[-1.12,2.18],[-1.02,2.24],[-0.92,2.30],[-0.84,2.34],[-0.76,2.38],[-0.68,2.44],[-0.60,2.40],[-0.52,2.38],[-0.46,2.34],[-0.40,2.28],[-0.34,2.24],[-0.28,2.30],[-0.22,2.18],[-0.16,2.24],[-0.10,2.14],[-0.05,2.20]],
  [[-2.34,2.14],[-2.36,1.84],[-2.39,1.70],[-2.36,1.60],[-2.30,1.54],[-2.22,1.52],[-2.14,1.53],[-2.04,1.57],[-1.96,1.62],[-1.86,1.70],[-1.76,1.78],[-1.66,1.86],[-1.56,1.94],[-1.46,2.00],[-1.36,2.08],[-1.26,2.16],[-1.16,2.22],[-1.06,2.32],[-0.96,2.40],[-0.88,2.46],[-0.80,2.52],[-0.72,2.56],[-0.64,2.50],[-0.56,2.44],[-0.50,2.38],[-0.44,2.32],[-0.38,2.36],[-0.30,2.28],[-0.24,2.30],[-0.18,2.20],[-0.12,2.24]],
  [[-2.31,2.16],[-2.32,1.90],[-2.33,1.74],[-2.30,1.62],[-2.25,1.58],[-2.18,1.55],[-2.10,1.56],[-2.02,1.59],[-1.94,1.64],[-1.85,1.70],[-1.76,1.75],[-1.64,1.82],[-1.52,1.88],[-1.40,1.96],[-1.28,2.04],[-1.16,2.10],[-1.04,2.16],[-0.92,2.22],[-0.84,2.26],[-0.78,2.25],[-0.72,2.32],[-0.66,2.30],[-0.60,2.28],[-0.54,2.34],[-0.46,2.28],[-0.40,2.24],[-0.34,2.18],[-0.28,2.12],[-0.22,2.16],[-0.16,2.10]],
  [[-2.40,2.22],[-2.42,1.86],[-2.44,1.70],[-2.40,1.62],[-2.32,1.58],[-2.24,1.58],[-2.14,1.62],[-2.04,1.68],[-1.94,1.76],[-1.84,1.86],[-1.74,1.96],[-1.64,2.06],[-1.54,2.16],[-1.44,2.26],[-1.36,2.36],[-1.26,2.44],[-1.16,2.50],[-1.06,2.54],[-0.96,2.56],[-0.88,2.54],[-0.80,2.58],[-0.74,2.61],[-0.68,2.55],[-0.62,2.50],[-0.54,2.52],[-0.46,2.44],[-0.40,2.40],[-0.34,2.30],[-0.28,2.34],[-0.22,2.26],[-0.16,2.30]],
  [[-2.36,2.17],[-2.37,1.80],[-2.36,1.66],[-2.31,1.57],[-2.24,1.54],[-2.16,1.55],[-2.08,1.58],[-2.00,1.64],[-1.90,1.72],[-1.78,1.82],[-1.66,1.92],[-1.54,2.02],[-1.42,2.12],[-1.30,2.22],[-1.20,2.30],[-1.10,2.38],[-1.00,2.42],[-0.90,2.44],[-0.82,2.50],[-0.74,2.46],[-0.66,2.50],[-0.58,2.44],[-0.50,2.48],[-0.42,2.42],[-0.36,2.34],[-0.30,2.40],[-0.24,2.30],[-0.18,2.36],[-0.12,2.26],[-0.06,2.30]],
  [[-2.29,2.13],[-2.28,1.84],[-2.27,1.68],[-2.24,1.60],[-2.18,1.57],[-2.10,1.58],[-2.02,1.61],[-1.94,1.67],[-1.84,1.75],[-1.72,1.84],[-1.60,1.92],[-1.48,2.00],[-1.36,2.06],[-1.24,2.10],[-1.12,2.16],[-1.00,2.20],[-0.92,2.26],[-0.84,2.32],[-0.76,2.30],[-0.70,2.38],[-0.62,2.34],[-0.54,2.40],[-0.46,2.36],[-0.40,2.30],[-0.34,2.34],[-0.28,2.24],[-0.22,2.28],[-0.16,2.18],[-0.10,2.22],[-0.05,2.12]],
  [[-2.37,2.19],[-2.39,1.92],[-2.42,1.76],[-2.40,1.66],[-2.34,1.60],[-2.26,1.57],[-2.18,1.58],[-2.08,1.62],[-1.98,1.70],[-1.88,1.80],[-1.78,1.90],[-1.68,1.98],[-1.58,2.08],[-1.48,2.18],[-1.38,2.28],[-1.28,2.34],[-1.18,2.40],[-1.08,2.46],[-0.98,2.50],[-0.90,2.52],[-0.82,2.46],[-0.74,2.54],[-0.66,2.58],[-0.60,2.52],[-0.52,2.56],[-0.44,2.48],[-0.38,2.44],[-0.32,2.38],[-0.26,2.40],[-0.20,2.32],[-0.14,2.34],[-0.08,2.24]],
  [[-2.33,2.12],[-2.35,1.82],[-2.37,1.66],[-2.33,1.56],[-2.26,1.52],[-2.18,1.51],[-2.10,1.53],[-2.02,1.57],[-1.94,1.62],[-1.86,1.68],[-1.78,1.74],[-1.68,1.80],[-1.58,1.88],[-1.46,1.94],[-1.34,2.02],[-1.22,2.08],[-1.10,2.14],[-1.00,2.20],[-0.90,2.26],[-0.82,2.32],[-0.74,2.34],[-0.66,2.40],[-0.58,2.36],[-0.50,2.42],[-0.44,2.34],[-0.38,2.38],[-0.32,2.30],[-0.26,2.34],[-0.20,2.26],[-0.14,2.30],[-0.08,2.22]],
  [[-2.31,2.14],[-2.30,1.86],[-2.28,1.70],[-2.25,1.62],[-2.20,1.58],[-2.12,1.56],[-2.04,1.58],[-1.96,1.62],[-1.86,1.70],[-1.76,1.78],[-1.66,1.86],[-1.56,1.94],[-1.46,2.02],[-1.36,2.10],[-1.26,2.18],[-1.16,2.26],[-1.06,2.34],[-0.98,2.40],[-0.90,2.48],[-0.84,2.54],[-0.78,2.48],[-0.70,2.44],[-0.62,2.48],[-0.56,2.38],[-0.48,2.34],[-0.42,2.40],[-0.36,2.26],[-0.30,2.32],[-0.24,2.20],[-0.18,2.28],[-0.12,2.16],[-0.06,2.24]],
  [[-2.35,2.16],[-2.34,1.86],[-2.35,1.70],[-2.32,1.60],[-2.26,1.55],[-2.18,1.53],[-2.10,1.55],[-2.01,1.59],[-1.92,1.64],[-1.82,1.72],[-1.72,1.78],[-1.62,1.86],[-1.50,1.94],[-1.40,2.02],[-1.30,2.08],[-1.18,2.14],[-1.08,2.22],[-0.98,2.28],[-0.88,2.34],[-0.80,2.40],[-0.72,2.42],[-0.64,2.44],[-0.56,2.38],[-0.48,2.32],[-0.40,2.36],[-0.34,2.28],[-0.28,2.20],[-0.22,2.24],[-0.16,2.14],[-0.10,2.20],[-0.06,2.08]]
];

const meanSets = [cnrmMean, crfcMean, lodyMean, scnrMean, scwfMean, smpiMean, ukmoMean];
const memberSets = [cnrmMembers, crfcMembers, lodyMembers, scnrMembers, scwfMembers, smpiMembers, ukmoMembers];

const FONT = '"Liberation Sans", Arial, Helvetica, sans-serif';
const toPoints = arr => arr.map(p => ({ x: p[0], y: p[1] }));

// Thin member lines first (underneath), then the thick mean trajectories
const datasets = [];
memberSets.forEach((set, m) => {
  set.forEach(line => {
    datasets.push({
      data: toPoints(line), showLine: true, borderColor: memberColors[m],
      borderWidth: 1.6, pointRadius: 0, tension: 0, fill: false,
      xAxisID: 'x', yAxisID: 'y', isMean: false
    });
  });
});
meanSets.forEach((set, m) => {
  datasets.push({
    data: toPoints(set), showLine: true, borderColor: meanColors[m],
    backgroundColor: meanColors[m], pointBackgroundColor: meanColors[m],
    borderWidth: 4, pointBorderWidth: 0, tension: 0, fill: false,
    // markers grow with lead time; the first nine carry a number
    pointRadius: ctx => ctx.dataIndex < 9 ? 7 : Math.min(12.5, 5.5 + (ctx.dataIndex - 9) * 0.33),
    xAxisID: 'x', yAxisID: 'y', isMean: true
  });
});
// Chart.js paints lower "order" last, so give earlier entries a higher order
datasets.forEach((d, i) => { d.order = datasets.length - i; });

// Lead-time numbers 1..9 written on the first markers of each mean trajectory
const stepNumbers = {
  id: 'stepNumbers',
  afterDatasetDraw(chart, args) {
    const ds = chart.data.datasets[args.index];
    if (!ds.isMean) return;
    const ctx = chart.ctx;
    ctx.save();
    ctx.fillStyle = '#ffffff';
    ctx.font = '14px ' + FONT;
    ctx.textAlign = 'center';
    ctx.textBaseline = 'middle';
    args.meta.data.slice(0, 9).forEach((pt, i) => {
      ctx.fillText(String(i + 1), pt.x, pt.y + 0.5);
    });
    ctx.restore();
  }
};

// Key in the top-left corner (member line, mean line, model name) and panel title
const panelDecor = {
  id: 'panelDecor',
  afterDraw(chart) {
    const ctx = chart.ctx;
    const area = chart.chartArea;
    ctx.save();
    const rowStep = 32.8;
    modelNames.forEach((name, i) => {
      const yRow = area.top + 34 + i * rowStep;
      ctx.lineCap = 'butt';
      ctx.strokeStyle = memberColors[i];
      ctx.lineWidth = 1.6;
      ctx.beginPath(); ctx.moveTo(area.left + 40, yRow); ctx.lineTo(area.left + 80, yRow); ctx.stroke();
      ctx.strokeStyle = meanColors[i];
      ctx.lineWidth = 4;
      ctx.beginPath(); ctx.moveTo(area.left + 98, yRow); ctx.lineTo(area.left + 138, yRow); ctx.stroke();
      ctx.fillStyle = '#000000';
      ctx.font = '28px ' + FONT;
      ctx.textAlign = 'left';
      ctx.textBaseline = 'alphabetic';
      ctx.fillText(name, area.left + 156, yRow + 8);
    });
    ctx.font = '42px ' + FONT;
    ctx.textAlign = 'right';
    ctx.textBaseline = 'alphabetic';
    ctx.fillStyle = '#000000';
    ctx.fillText(panelTitle, area.right - 39, area.top + 56);
    ctx.restore();
  }
};

const tickFont = { family: FONT, size: 36 };
const frameGrid = { display: true, drawOnChartArea: false, drawTicks: true, tickLength: 15, color: '#000000', lineWidth: 1.2 };
const frameBorder = { display: true, color: '#000000', width: 2.2 };
const fmtX = v => (v < 0 ? '\u2212' + Math.abs(v) : String(v));
// Fixed box sizes so the plotting frame sits at the same place whatever the labels measure
const fixBox = (w, h) => s => {
  if (w !== null) s.width = w;
  if (h !== null) s.height = h;
  s.paddingLeft = 0; s.paddingRight = 0; s.paddingTop = 0; s.paddingBottom = 0;
};

new Chart(document.getElementById('c'), {
  type: 'scatter',
  data: { datasets },
  options: {
    responsive: false,
    animation: false,
    events: [],
    layout: { padding: 0 },
    plugins: { legend: { display: false }, tooltip: { enabled: false }, title: { display: false } },
    scales: {
      x: {
        type: 'linear', position: 'bottom', min: -3.2, max: 0.3,
        afterBuildTicks: s => { s.ticks = xTicks.map(v => ({ value: v })); },
        afterFit: fixBox(null, 147),
        ticks: { font: tickFont, color: '#000000', padding: 10, maxRotation: 0, autoSkip: false, callback: fmtX },
        grid: frameGrid, border: frameBorder,
        title: { display: true, text: xLabel, color: '#000000', font: { family: FONT, size: 56 }, padding: { top: 0, bottom: 11 } }
      },
      xTop: {
        type: 'linear', position: 'top', min: -3.2, max: 0.3,
        afterBuildTicks: s => { s.ticks = xTicks.map(v => ({ value: v })); },
        afterFit: fixBox(null, 14),
        ticks: { display: false }, grid: frameGrid, border: frameBorder
      },
      y: {
        type: 'linear', position: 'left', min: 1.3, max: 2.7,
        afterBuildTicks: s => { s.ticks = yTicks.map(v => ({ value: v })); },
        afterFit: fixBox(172, null),
        ticks: { font: tickFont, color: '#000000', padding: 17, autoSkip: false, callback: v => v.toFixed(1) },
        grid: frameGrid, border: frameBorder,
        title: { display: true, text: yLabel, color: '#000000', font: { family: FONT, size: 56 }, padding: { top: 6, bottom: 0 } }
      },
      yRight: {
        type: 'linear', position: 'right', min: 1.3, max: 2.7,
        afterBuildTicks: s => { s.ticks = yTicks.map(v => ({ value: v })); },
        afterFit: fixBox(22, null),
        ticks: { display: false }, grid: frameGrid, border: frameBorder
      }
    }
  },
  plugins: [stepNumbers, panelDecor]
});
</script>
</body>
</html>
